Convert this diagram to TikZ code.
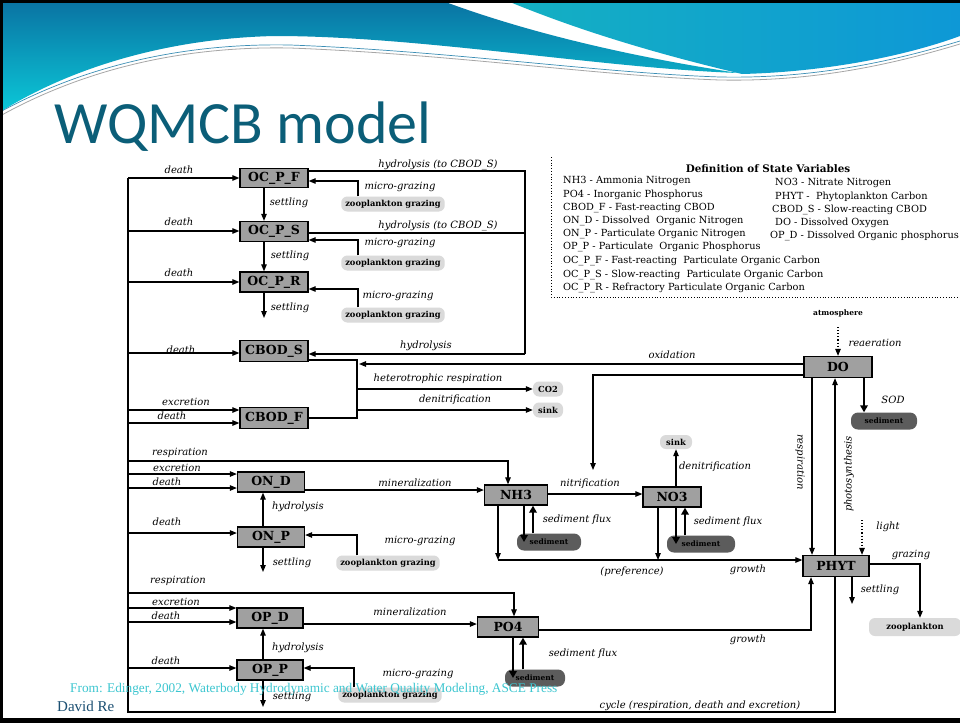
\documentclass[tikz,border=0pt]{standalone}
\usepackage{fontspec}
\setmainfont{DejaVu Serif}
\newfontfamily\titlefont{Carlito}
\newfontfamily\timesfont{Liberation Serif}
\usetikzlibrary{arrows.meta}

\definecolor{hdrTop}{HTML}{0A72A2}
\definecolor{hdrBot}{HTML}{0BC8D8}
\definecolor{hdrR1}{HTML}{14B0C2}
\definecolor{hdrR2}{HTML}{0E98D6}
\definecolor{titleC}{HTML}{0B5E78}
\definecolor{citeC}{HTML}{3CC6D0}
\definecolor{authorC}{HTML}{1B4F72}
\definecolor{boxfill}{HTML}{A0A0A0}
\definecolor{cloudL}{HTML}{DADADA}
\definecolor{cloudD}{HTML}{5C5C5C}

\tikzset{
  bx/.style={draw=black, line width=1.3pt, fill=boxfill,
    font=\bfseries\fontsize{12.5}{14}\selectfont,
    minimum width=66pt, minimum height=20pt, inner sep=0pt},
  lb/.style={font=\itshape\fontsize{10}{11}\selectfont, inner sep=0pt},
  fl/.style={line width=1.1pt, -{Triangle[length=7pt,width=5.5pt]}},
  ln/.style={line width=1.1pt},
  sedfl/.style={line width=2.2pt, -{Triangle[length=7pt,width=7.5pt]}},
  dotfl/.style={line width=1.1pt, dotted, -{Triangle[length=7pt,width=5.5pt]}},
  lcloud/.style={fill=cloudL, rounded corners=6pt,
    font=\bfseries\fontsize{8.3}{9}\selectfont, inner xsep=4pt, inner ysep=0pt,
    minimum height=15pt},
  dcloud/.style={fill=cloudD, rounded corners=7pt,
    font=\bfseries\fontsize{7.5}{8}\selectfont, inner sep=0pt, minimum height=17pt},
  leg/.style={font=\fontsize{9.8}{11}\selectfont, anchor=west, inner sep=0pt},
}

\begin{document}
\begin{tikzpicture}[x=1pt, y=-1pt]
\useasboundingbox (0,0) rectangle (960,723);
\clip (0,0) rectangle (960,723);
\fill[white] (0,0) rectangle (960,723);

% ---------- slide header waves ----------
\shade[top color=hdrTop, bottom color=hdrBot]
  (0,0) -- (440,0) .. controls (520,30) and (620,55) .. (738,73)
  .. controls (600,68) and (420,36) .. (275,36)
  .. controls (180,38) and (80,62) .. (0,112) -- cycle;
\shade[left color=hdrR1, right color=hdrR2]
  (505,0) -- (960,0) -- (960,36) .. controls (900,58) and (820,72) .. (742,74)
  .. controls (640,50) and (565,25) .. (505,0) -- cycle;
\draw[black!35, line width=0.8pt]
  (0,116) .. controls (90,66) and (190,46) .. (290,48)
  .. controls (450,54) and (600,76) .. (720,80)
  .. controls (820,82) and (900,62) .. (960,44);
\draw[hdrTop!80, line width=0.7pt]
  (0,112) .. controls (90,63) and (190,43) .. (290,45)
  .. controls (450,51) and (600,73) .. (720,77)
  .. controls (820,79) and (900,59) .. (960,41);

% slide frame
\fill[black] (0,0) rectangle (960,3);
\fill[black] (0,0) rectangle (3,723);
\fill[black] (0,718) rectangle (960,723);

% title and author
\node[anchor=base west, inner sep=0pt, text=titleC,
  font=\titlefont\fontsize{60}{64}\selectfont] (title) at (54,143) {WQMCB model};
\node[anchor=base west, inner sep=0pt, text=authorC,
  font=\timesfont\fontsize{15}{16}\selectfont] (author) at (57,711) {David Re};

% ---------- state variable boxes ----------
\node[bx, minimum width=68pt, minimum height=19pt] (ocpf)  at (274,178) {OC\_P\_F};
\node[bx, minimum width=68pt] (ocps)  at (274,231.5) {OC\_P\_S};
\node[bx, minimum width=68pt] (ocpr)  at (274,282) {OC\_P\_R};
\node[bx, minimum width=68pt, minimum height=21pt] (cbods) at (274,351) {CBOD\_S};
\node[bx, minimum width=68pt, minimum height=21pt] (cbodf) at (274,418) {CBOD\_F};
\node[bx, minimum width=67pt] (ond)   at (271,482) {ON\_D};
\node[bx, minimum width=67pt] (onp)   at (271,537) {ON\_P};
\node[bx] (opd)   at (270,618) {OP\_D};
\node[bx] (opp)   at (270,670) {OP\_P};
\node[bx, minimum width=63pt] (nh3)   at (516,495) {NH3};
\node[bx, minimum width=58pt] (no3)   at (672,497) {NO3};
\node[bx, minimum width=61pt] (po4)   at (508,627) {PO4};
\node[bx, minimum width=68pt, minimum height=21pt] (do)    at (838,367) {DO};
\node[bx, minimum height=21pt] (phyt)  at (836,566) {PHYT};

% ---------- clouds: grazers, sinks, sediment ----------
\node[lcloud] (zg1) at (393,204) {zooplankton grazing};
\node[lcloud] (zg2) at (393,263) {zooplankton grazing};
\node[lcloud] (zg3) at (393,315) {zooplankton grazing};
\node[lcloud] (zg4) at (388,563) {zooplankton grazing};
\node[lcloud] (zg5) at (390,695) {zooplankton grazing};
\node[lcloud, minimum width=30pt, inner xsep=2pt] (co2)   at (548,389) {CO2};
\node[lcloud, minimum width=30pt, inner xsep=2pt] (sink1) at (548,410) {sink};
\node[lcloud, minimum width=32pt, inner xsep=2pt, minimum height=14pt] (sink2) at (676,442) {sink};
\node[lcloud, minimum width=92pt, minimum height=18pt] (zoo) at (915,627) {zooplankton};
\node[dcloud, minimum width=64pt] (sed1) at (549,542) {sediment};
\node[dcloud, minimum width=68pt] (sed2) at (701,544) {sediment};
\node[dcloud, minimum width=60pt] (sed3) at (535,678) {sediment};
\node[dcloud, minimum width=66pt] (sed4) at (884,421) {sediment};

% ---------- left collector (cycle) ----------
\coordinate (L1)  at (128,178);
\coordinate (L2)  at (128,231);
\coordinate (L3)  at (128,282);
\coordinate (L4)  at (128,353);
\coordinate (L5)  at (128,410);
\coordinate (L6)  at (128,423);
\coordinate (L7)  at (128,461);
\coordinate (L8)  at (128,474);
\coordinate (L9)  at (128,488);
\coordinate (L10) at (128,533);
\coordinate (L11) at (128,593);
\coordinate (L12) at (128,608);
\coordinate (L13) at (128,622);
\coordinate (L14) at (128,668);
\coordinate (LB)  at (128,712);
\coordinate (RB)  at (835,712);

\draw[ln] (phyt.south -| RB) -- (RB) -- (LB) -- (L1);

\draw[fl] (L1)  -- (ocpf.west |- L1);
\draw[fl] (L2)  -- (ocps.west |- L2);
\draw[fl] (L3)  -- (ocpr.west |- L3);
\draw[fl] (L4)  -- (cbods.west |- L4);
\draw[fl] (L5)  -- (cbodf.west |- L5);
\draw[fl] (L6)  -- (cbodf.west |- L6);
\draw[fl] (L8)  -- (ond.west |- L8);
\draw[fl] (L9)  -- (ond.west |- L9);
\draw[fl] (L10) -- (onp.west |- L10);
\draw[fl] (L12) -- (opd.west |- L12);
\draw[fl] (L13) -- (opd.west |- L13);
\draw[fl] (L14) -- (opp.west |- L14);

% respiration to the inorganic pools
\coordinate (R1) at (508,461);
\coordinate (R2) at (514,593);
\draw[fl] (L7) -- (R1) -- (nh3.north -| R1);
\draw[fl] (L11) -- (R2) -- (po4.north -| R2);

% ---------- particulate organic carbon ----------
\coordinate (SX) at (264,0);
\draw[fl] (ocpf.south -| SX) -- (ocps.north -| SX);
\draw[fl] (ocps.south -| SX) -- (ocpr.north -| SX);
\coordinate (S3) at (264,318);
\draw[fl] (ocpr.south -| SX) -- (S3);

\coordinate (H1) at (525,171);
\coordinate (H2) at (525,233);
\coordinate (H3) at (525,354);
\draw[ln] (ocpf.east |- H1) -- (H1) -- (H3);
\draw[ln] (ocps.east |- H2) -- (H2);
\draw[fl] (H3) -- (cbods.east |- H3);

\coordinate (M1) at (358,181);
\coordinate (M2) at (358,240);
\coordinate (M3) at (358,289);
\coordinate (M4) at (357,535);
\coordinate (M5) at (354,668);
\draw[fl] (zg1.north -| M1) -- (M1) -- (ocpf.east |- M1);
\draw[fl] (zg2.north -| M2) -- (M2) -- (ocps.east |- M2);
\draw[fl] (zg3.north -| M3) -- (M3) -- (ocpr.east |- M3);
\draw[fl] (zg4.north -| M4) -- (M4) -- (onp.east |- M4);
\draw[fl] (zg5.north -| M5) -- (M5) -- (opp.east |- M5);

% ---------- CBOD ----------
\coordinate (J1) at (357,360);
\coordinate (J2) at (357,418);
\draw[ln] (cbods.east |- J1) -- (J1) -- (J2) -- (cbodf.east |- J2);
\draw[fl] (J1 |- co2) -- (co2.west);
\draw[fl] (J1 |- sink1) -- (sink1.west);
\coordinate (OX) at (359,364);
\draw[fl] (do.west |- OX) -- (OX);

% ---------- nitrogen ----------
\coordinate (HY) at (263,0);
\draw[fl] (onp.north -| HY) -- (ond.south -| HY);
\coordinate (ONS) at (263,572);
\draw[fl] (onp.south -| HY) -- (ONS);
\coordinate (MN1) at (400,490);
\draw[fl] (ond.east |- MN1) -- (nh3.west |- MN1);
\coordinate (N1) at (590,494);
\draw[fl] (nh3.east |- N1) -- (no3.west |- N1);
\draw[fl] (no3.north -| sink2) -- (sink2.south);
\coordinate (DN1) at (593,375);
\coordinate (DN2) at (593,470);
\draw[fl] (do.west |- DN1) -- (DN1) -- (DN2);

\coordinate (A1) at (524,0);
\coordinate (A2) at (533,0);
\draw[sedfl] (nh3.south -| A1) -- (sed1.center -| A1);
\draw[sedfl] (sed1.north -| A2) -- (nh3.south -| A2);
\coordinate (B1) at (676,0);
\coordinate (B2) at (685,0);
\draw[sedfl] (no3.south -| B1) -- (sed2.center -| B1);
\draw[sedfl] (sed2.north -| B2) -- (no3.south -| B2);

\coordinate (P1) at (498,560);
\coordinate (P2) at (658,560);
\draw[fl] (nh3.south -| P1) -- (P1);
\draw[fl] (no3.south -| P2) -- (P2);
\draw[fl] (P1) -- (phyt.west |- P1);

% ---------- phosphorus ----------
\draw[fl] (opp.north -| HY) -- (opd.south -| HY);
\coordinate (OPS) at (263,707);
\draw[fl] (opp.south -| HY) -- (OPS);
\coordinate (MN2) at (400,624);
\draw[fl] (opd.east |- MN2) -- (po4.west |- MN2);
\coordinate (C1) at (513,0);
\coordinate (C2) at (523,0);
\draw[sedfl] (po4.south -| C1) -- (sed3.center -| C1);
\draw[sedfl] (sed3.north -| C2) -- (po4.south -| C2);
\coordinate (GR1) at (811,630);
\draw[fl] (po4.east |- GR1) -- (GR1) -- (phyt.south -| GR1);

% ---------- oxygen and phytoplankton ----------
\node[font=\bfseries\fontsize{7.5}{8}\selectfont, inner sep=1pt] (atm) at (838,313) {atmosphere};
\coordinate (AT) at (838,327);
\draw[dotfl] (AT) -- (do.north);
\coordinate (SD) at (864,0);
\draw[sedfl] (do.south -| SD) -- (sed4.north -| SD);
\coordinate (RX) at (812,0);
\draw[fl] (do.south -| RX) -- (phyt.north -| RX);
\draw[fl] (phyt.north -| RB) -- (do.south -| RB);
\coordinate (LT) at (862,520);
\draw[dotfl] (LT) -- (phyt.north -| LT);
\coordinate (G1) at (920,564);
\draw[fl] (phyt.east |- G1) -- (G1) -- (zoo.north -| G1);
\coordinate (PS) at (852,604);
\draw[fl] (phyt.south -| PS) -- (PS);

% ---------- flow labels ----------
\node[lb] at (179,170) {death};
\node[lb] at (179,222) {death};
\node[lb] at (179,273) {death};
\node[lb] at (181,350) {death};
\node[lb] at (172,416) {death};
\node[lb] at (167,482) {death};
\node[lb] at (167,522) {death};
\node[lb] at (166,616) {death};
\node[lb] at (166,661) {death};
\node[lb] at (186,402) {excretion};
\node[lb] at (177,468) {excretion};
\node[lb] at (176,602) {excretion};
\node[lb] at (180,453) {respiration};
\node[lb] at (178,581) {respiration};
\node[lb] at (438,165) {hydrolysis (to CBOD\_S)};
\node[lb] at (438,226) {hydrolysis (to CBOD\_S)};
\node[lb] at (400,187) {micro-grazing};
\node[lb] at (400,243) {micro-grazing};
\node[lb] at (398,296) {micro-grazing};
\node[lb] at (420,541) {micro-grazing};
\node[lb] at (418,674) {micro-grazing};
\node[lb] at (289,203) {settling};
\node[lb] at (290,256) {settling};
\node[lb] at (290,308) {settling};
\node[lb] at (292,563) {settling};
\node[lb] at (292,697) {settling};
\node[lb] at (880,590) {settling};
\node[lb] at (426,346) {hydrolysis};
\node[lb] at (298,507) {hydrolysis};
\node[lb] at (298,648) {hydrolysis};
\node[lb] at (672,355) {oxidation};
\node[lb] at (438,379) {heterotrophic respiration};
\node[lb] at (455,400) {denitrification};
\node[lb] at (715,467) {denitrification};
\node[lb] at (415,483) {mineralization};
\node[lb] at (410,612) {mineralization};
\node[lb] at (590,484) {nitrification};
\node[lb] at (577,520) {sediment flux};
\node[lb] at (728,522) {sediment flux};
\node[lb] at (583,654) {sediment flux};
\node[lb] at (632,572) {(preference)};
\node[lb] at (748,570) {growth};
\node[lb] at (748,640) {growth};
\node[lb] at (875,343) {reaeration};
\node[lb] at (893,400) {SOD};
\node[lb, rotate=-90] at (800,462) {respiration};
\node[lb, rotate=90] at (849,474) {photosynthesis};
\node[lb] at (888,527) {light};
\node[lb] at (911,555) {grazing};
\node[lb] at (700,706) {cycle (respiration, death and excretion)};

% ---------- definitions panel ----------
\draw[line width=0.8pt, dotted] (551,157) -- (551,297) -- (960,297);
\node[font=\bfseries\fontsize{10.4}{11}\selectfont, inner sep=0pt] at (768,169) {Definition of State Variables};
\node[leg] at (563,181) {NH3 - Ammonia Nitrogen};
\node[leg] at (563,195) {PO4 - Inorganic Phosphorus};
\node[leg] at (563,208) {CBOD\_F - Fast-reacting CBOD};
\node[leg] at (563,221) {ON\_D - Dissolved\ \ Organic Nitrogen};
\node[leg] at (563,234) {ON\_P - Particulate Organic Nitrogen};
\node[leg] at (563,247) {OP\_P - Particulate\ \ Organic Phosphorus};
\node[leg] at (563,261) {OC\_P\_F - Fast-reacting\ \ Particulate Organic Carbon};
\node[leg] at (563,275) {OC\_P\_S - Slow-reacting\ \ Particulate Organic Carbon};
\node[leg] at (563,288) {OC\_P\_R - Refractory Particulate Organic Carbon};
\node[leg] at (775,183) {NO3 - Nitrate Nitrogen};
\node[leg] at (775,197) {PHYT -\ \ Phytoplankton Carbon};
\node[leg] at (772,210) {CBOD\_S - Slow-reacting CBOD};
\node[leg] at (775,223) {DO - Dissolved Oxygen};
\node[leg] at (770,236) {OP\_D - Dissolved Organic phosphorus};

% source line
\node[anchor=base west, inner sep=0pt, text=citeC,
  font=\timesfont\fontsize{13.3}{14}\selectfont] (cite) at (70,692)
  {From: Edinger, 2002, Waterbody Hydrodynamic and Water Quality Modeling, ASCE Press};
\end{tikzpicture}
\end{document}
